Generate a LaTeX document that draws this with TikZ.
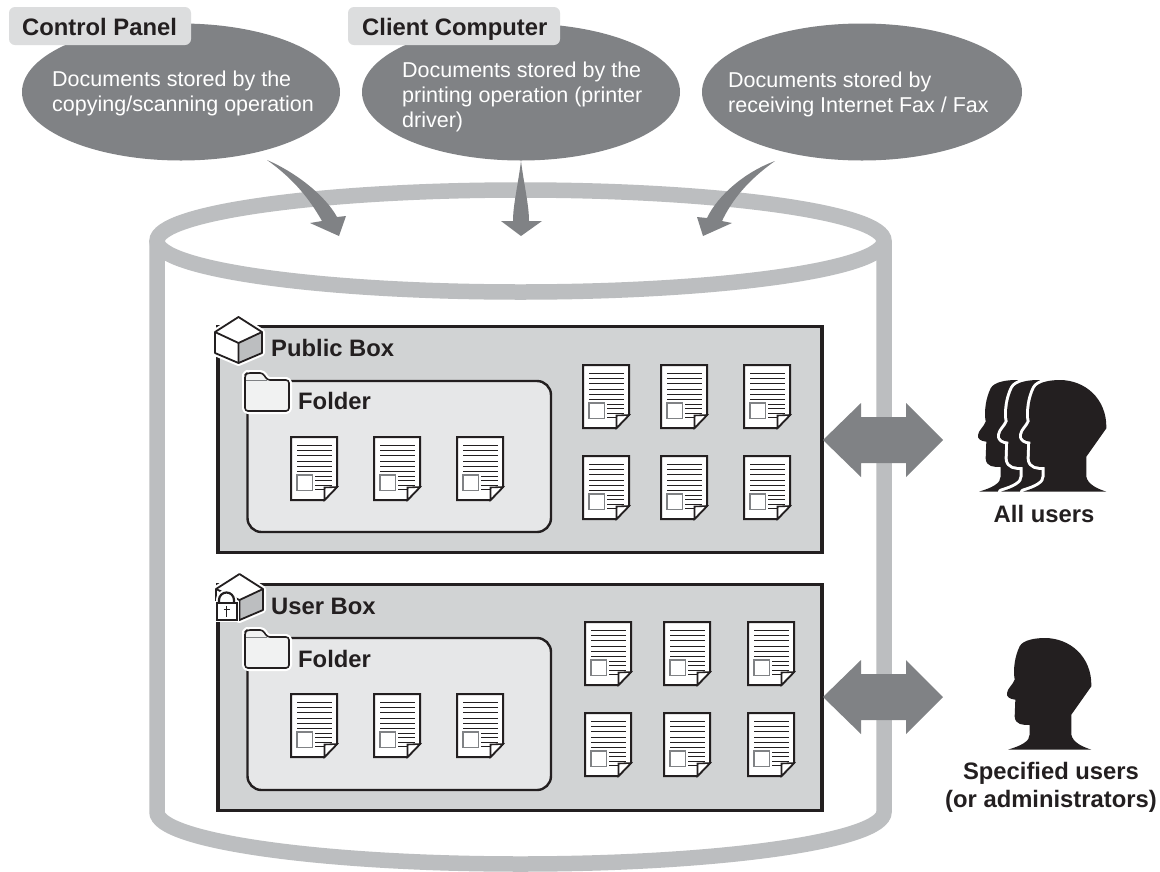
\documentclass[tikz,border=0pt]{standalone}
\usepackage{fontspec}
\usetikzlibrary{shapes.geometric}
\setmainfont{Liberation Sans}
\definecolor{ink}{HTML}{231F20}
\definecolor{oval}{HTML}{808285}
\definecolor{rim}{HTML}{BCBEC0}
\definecolor{boxfill}{HTML}{D1D3D4}
\definecolor{folderfill}{HTML}{E6E7E8}
\definecolor{foldericonfill}{HTML}{F1F2F2}
\definecolor{tabfill}{HTML}{DCDDDE}
\tikzset{
  bold label/.style={anchor=base west,inner sep=0pt,text=ink,font=\fontsize{23.8}{26}\selectfont\bfseries},
  center label/.style={inner sep=0pt,text=ink,align=center,font=\fontsize{23.8}{28}\selectfont\bfseries},
  oval text/.style={anchor=west,inner sep=0pt,text=white,align=left,font=\fontsize{21.5}{25}\selectfont},
  oval shape/.style={ellipse,fill=oval,inner sep=0pt,outer sep=0pt,anchor=center},
  tab label/.style={fill=tabfill,rounded corners=6pt,inner sep=0pt,outer sep=0pt,anchor=north west},
  big box/.style={draw=ink,fill=boxfill,line width=3.4pt,inner sep=0pt,outer sep=0pt,anchor=north west},
  folder box/.style={draw=ink,fill=folderfill,line width=2.4pt,rounded corners=14pt,inner sep=0pt,outer sep=0pt,anchor=north west},
  block arrow/.style={fill=oval},
  rim line/.style={draw=rim,line width=15.5pt},
  pics/docicon/.style={code={
    \draw[ink,fill=white,line width=2pt,line join=miter] (0,0) -- (46,0) -- (46,50) -- (33.5,63) -- (0,63) -- cycle;
    \foreach \yy in {8.3,13.5,18.7,24,29.2,34.4} \draw[ink,line width=.9pt] (6,\yy) -- (41,\yy);
    \foreach \yy in {39,43.7,48.3,52.5} \draw[ink,line width=.9pt] (24,\yy) -- (41,\yy);
    \draw[oval,fill=white,line width=1.2pt] (6,38) rectangle (21.5,53.5);
    \draw[ink,fill=white,line width=1.6pt,line join=miter] (46,50) -- (33.5,50.5) -- (33.5,63) -- cycle;
  }},
  pics/foldericon/.style={code={
    \draw[white,fill=white,line width=6pt,line join=round,rounded corners=3pt] (0,7) -- (0,38) -- (44,38) -- (44,7) -- (22,7) -- (18,0) -- (2,0) -- (0,2) -- cycle;
    \draw[ink,fill=foldericonfill,line width=1.6pt,line join=round,rounded corners=3pt] (0,7) -- (0,38) -- (44,38) -- (44,7) -- (22,7) -- (18,0) -- (2,0) -- (0,2) -- cycle;
    \draw[oval,line width=.7pt] (0.8,7) -- (22,7);
  }},
  pics/cubeicon/.style={code={
    \draw[white,fill=white,line width=6pt,line join=round] (0,15) -- (23.5,0) -- (47,15) -- (47,36) -- (23.5,46) -- (0,36) -- cycle;
    \fill[rim] (23.5,26) -- (47,15) -- (47,36) -- (23.5,46) -- cycle;
    \draw[ink,line width=1.8pt,line join=round] (0,15) -- (23.5,0) -- (47,15) -- (47,36) -- (23.5,46) -- (0,36) -- cycle;
    \draw[ink,line width=1.8pt,line join=round] (0,15) -- (23.5,26) -- (47,15) (23.5,26) -- (23.5,46);
  }},
  pics/headicon/.style={code={
    \begin{scope}[scale=1/3,shift={(-232,-55)}]
    \def\headpath{(235,390) .. controls (275,378) and (300,365) .. (300,345) -- (300,316)
      .. controls (280,316) and (256,316) .. (255,290) -- (257,240)
      .. controls (240,238) and (230,232) .. (232,220)
      .. controls (234,205) and (250,195) .. (255,180)
      .. controls (250,150) and (255,110) .. (270,80)
      .. controls (280,60) and (320,55) .. (345,55)
      .. controls (420,55) and (487,110) .. (485,200)
      -- (425,285) -- (425,345)
      .. controls (430,368) and (455,380) .. (485,390) -- cycle}
    \draw[white,line width=6pt,line join=round] \headpath;
    \fill[ink] \headpath;
    \end{scope}
  }}
}
\begin{document}
\begin{tikzpicture}[x=1pt,y=-1pt]
\useasboundingbox (0,0) rectangle (1160,871);
\fill[white] (0,0) rectangle (1160,871);
% cylinder
\path[rim line] (520.5,241) ellipse [x radius=363.5,y radius=51];
\path[rim line] (157,241) -- (157,812) arc [start angle=180,end angle=0,x radius=363.5,y radius=52] -- (884,241);
% ovals
\node[oval shape,minimum width=318pt,minimum height=137pt] (ovalA) at (181,92) {};
\node[oval shape,minimum width=318pt,minimum height=137pt] (ovalB) at (521,92) {};
\node[oval shape,minimum width=320pt,minimum height=137pt] (ovalC) at (862,92) {};
\node[tab label,minimum width=182pt,minimum height=38pt] (tabA) at (9,7) {};
\node[tab label,minimum width=212pt,minimum height=38pt] (tabB) at (348,7) {};
\node[bold label] (labA) at (22,35) {Control Panel};
\node[bold label] (labB) at (362,35) {Client Computer};
\node[oval text] (txtA) at (52,93) {Documents stored by the\\copying/scanning operation};
\node[oval text] (txtB) at (402,97) {Documents stored by the\\printing operation (printer\\driver)};
\node[oval text] (txtC) at (728,94) {Documents stored by\\receiving Internet Fax / Fax};
% inflow arrows
\fill[block arrow] (267,160) .. controls (295,172) and (325,195) .. (337,217) -- (346,216) -- (339,236) -- (310,223) -- (322,221) .. controls (310,200) and (295,180) .. (267,160) -- cycle;
\fill[block arrow] (521,161) .. controls (524,185) and (529,205) .. (529,221) -- (542,221) -- (521,236) -- (501,221) -- (513,221) .. controls (513,205) and (518,185) .. (521,161) -- cycle;
\fill[block arrow] (775,161) .. controls (745,172) and (718,195) .. (707,218) -- (697,217) -- (703,236) -- (732,223) -- (722,221) .. controls (732,200) and (748,180) .. (775,161) -- cycle;
% boxes
\node[big box,minimum width=604pt,minimum height=226pt] (pub) at (218,326.5) {};
\node[big box,minimum width=604pt,minimum height=226pt] (usr) at (218,584.5) {};
\node[folder box,minimum width=303.5pt,minimum height=151pt] (fpub) at (247.5,381) {};
\node[folder box,minimum width=303.5pt,minimum height=152pt] (fusr) at (247.5,638) {};
\pic at (215,317) {cubeicon};
\pic at (216,574) {cubeicon};
\pic at (245,373) {foldericon};
\pic at (245,630) {foldericon};
% padlock
\draw[white,line width=6pt] (219,603) -- (219,600) arc [start angle=180,end angle=360,radius=7.5] -- (234,603);
\draw[white,fill=white,line width=4pt] (216.5,603) rectangle (236.5,620);
\draw[ink,line width=2.2pt] (219,603) -- (219,600) arc [start angle=180,end angle=360,radius=7.5] -- (234,603);
\draw[ink,fill=white,line width=2pt] (216.5,603) rectangle (236.5,620);
\draw[ink,line width=1pt] (226.5,606) -- (226.5,617) (223.5,609.5) -- (229.5,609.5);
\node[bold label] (lpub) at (271,356) {Public Box};
\node[bold label] (lfpub) at (298,409) {Folder};
\node[bold label] (lusr) at (271,614) {User Box};
\node[bold label] (lfusr) at (298,667) {Folder};
% documents
\foreach \px/\py in {583/365,661/365,744/365,583/456,661/456,744/456,291/437,374/437,457/437,
                     585/622,664/622,748/622,585/713,664/713,748/713,291/694,374/694,457/694}
  \pic at (\px,\py) {docicon};
% double arrows
\fill[block arrow] (823,440) -- (861,403) -- (861,417) -- (906,417) -- (906,403) -- (943,440) -- (906,477) -- (906,463) -- (861,463) -- (861,477) -- cycle;
\fill[block arrow] (823,697) -- (861,660) -- (861,674) -- (906,674) -- (906,660) -- (943,697) -- (906,734) -- (906,720) -- (861,720) -- (861,734) -- cycle;
% people
\pic at (978,380) {headicon};
\pic at (1000,380) {headicon};
\pic at (1022,380) {headicon};
\pic at (1007,638) {headicon};
\node[center label] (all) at (1044,514) {All users};
\node[center label] (spec) at (1051,787) {Specified users\\(or administrators)};
\end{tikzpicture}
\end{document}
